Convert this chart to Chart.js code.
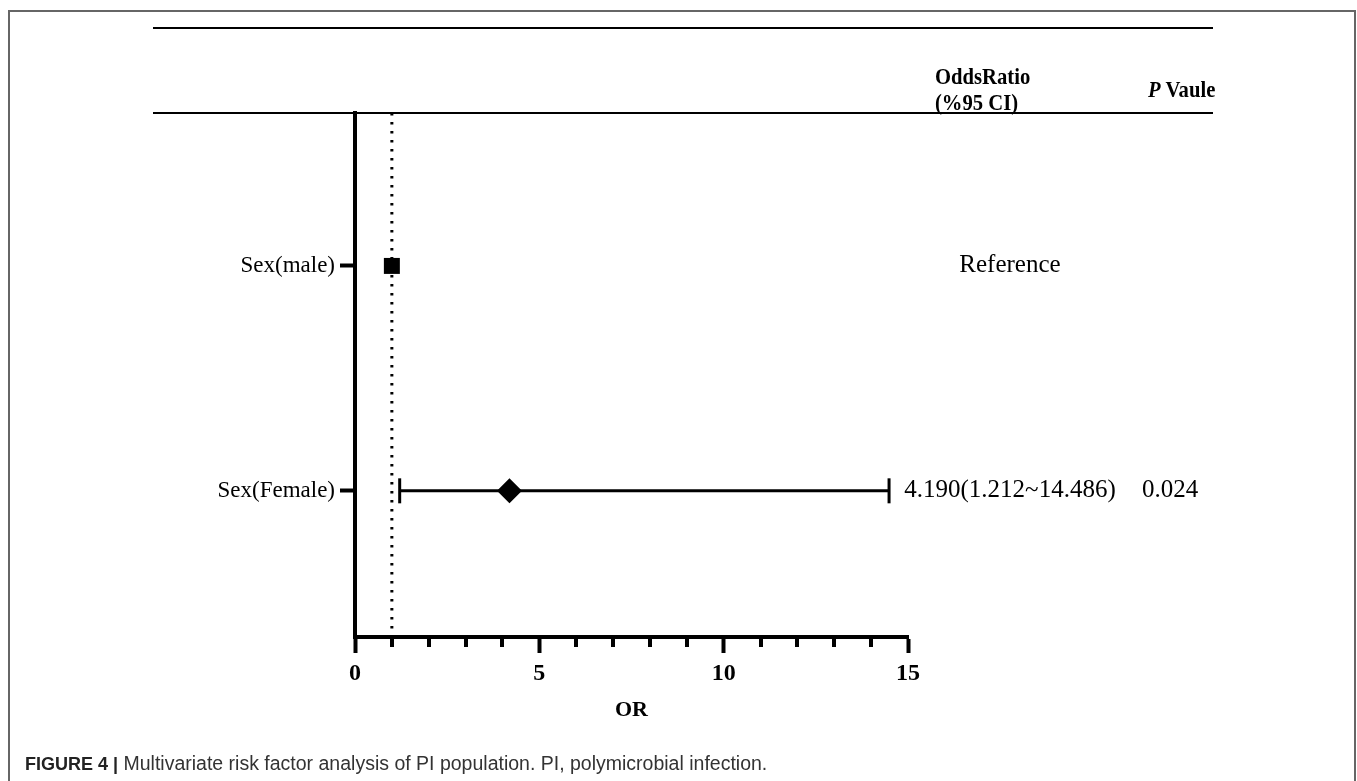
<!DOCTYPE html>
<html>
<head>
<meta charset="utf-8">
<script src="https://cdn.jsdelivr.net/npm/chart.js@4.4.1/dist/chart.umd.min.js"></script>
<style>
    html, body { margin: 0; padding: 0; background: #fff; }
    #wrap { position: relative; width: 1357px; height: 781px; overflow: hidden; background: #fff; }
    #frame { position: absolute; left: 8px; top: 10px; width: 1344px; height: 800px; border: 2px solid #666; border-bottom: none; }
    #chart { position: absolute; left: 0; top: 0; }
    #caption { position: absolute; left: 25px; top: 752px; font-family: 'Liberation Sans', Arial, sans-serif; font-size: 19.5px; color: #333; white-space: nowrap; }
    #caption b { font-size: 18px; color: #222; }
</style>
</head>
<body>
<div id="wrap">
    <div id="frame"></div>
    <canvas id="chart" width="1357" height="781"></canvas>
    <div id="caption"><b>FIGURE 4 |</b> Multivariate risk factor analysis of PI population. PI, polymicrobial infection.</div>
</div>
<script>
// du lieu doc tu hinh
const rowLabels = ['Sex(male)', 'Sex(Female)'];
const rowPos = [1, 2];
const oddsRatio = [1, 4.190];
const ciLower = [null, 1.212];
const ciUpper = [null, 14.486];
const orText = ['Reference', '4.190(1.212~14.486)'];
const pText = ['', '0.024'];
const markerStyle = ['rect', 'rectRot'];
const markerSize = [11.3, 12.5];
const refLine = 1;
const xMin = 0, xMax = 15, xStep = 5;
const yMin = 0.32, yMax = 2.65;

const serif = "'Liberation Serif', 'Times New Roman', serif";

// cac dataset
const datasets = [];

datasets.push({
    label: 'OR',
    data: rowPos.map((y, i) => ({ x: oddsRatio[i], y: y })),
    pointStyle: markerStyle,
    pointRadius: markerSize,
    backgroundColor: '#000',
    borderColor: '#000',
    borderWidth: 0,
    showLine: false
});

rowPos.forEach((y, i) => {
    if (ciLower[i] == null) return;
    datasets.push({
        label: 'CI ' + rowLabels[i],
        data: [{ x: ciLower[i], y: y }, { x: ciUpper[i], y: y }],
        showLine: true,
        borderColor: '#000',
        borderWidth: 3,
        pointStyle: 'line',
        rotation: 90,
        pointRadius: 12.5,
        pointBorderWidth: 3,
        pointBorderColor: '#000'
    });
});

// duong tham chieu OR = 1
datasets.push({
    label: 'ref',
    data: [{ x: refLine, y: yMin }, { x: refLine, y: yMax }],
    showLine: true,
    borderColor: '#000',
    borderWidth: 3,
    borderDash: [2.5, 6.5],
    pointRadius: 0
});

// chu dam hep (giong font tieu de goc)
function narrowText(ctx, text, x, y, font, sx) {
    ctx.save();
    ctx.font = font;
    ctx.translate(x, y);
    ctx.scale(sx, 1);
    ctx.fillText(text, 0, 0);
    const w = ctx.measureText(text).width * sx;
    ctx.restore();
    return w;
}

// ve tieu de bang, cot OR va P, vach phu truc x
const tablePlugin = {
    id: 'tablePlugin',
    afterDraw(chart) {
        const ctx = chart.ctx;
        const xs = chart.scales.x;
        const ys = chart.scales.y;
        const area = chart.chartArea;
        ctx.save();

        // vach phu
        ctx.strokeStyle = '#000';
        ctx.lineWidth = 4;
        for (let v = xMin + 1; v < xMax; v++) {
            if (v % xStep === 0) continue;
            const px = Math.round(xs.getPixelForValue(v));
            ctx.beginPath();
            ctx.moveTo(px, area.bottom);
            ctx.lineTo(px, area.bottom + 10);
            ctx.stroke();
        }

        // hai duong ngang cua bang
        ctx.lineWidth = 2;
        ctx.beginPath();
        ctx.moveTo(153, 28);
        ctx.lineTo(1213, 28);
        ctx.moveTo(153, area.top);
        ctx.lineTo(1213, area.top);
        ctx.stroke();

        // tieu de cot
        ctx.fillStyle = '#000';
        ctx.textBaseline = 'middle';
        ctx.textAlign = 'left';
        const hFont = 'bold 24px ' + serif;
        narrowText(ctx, 'OddsRatio', 935, 78, hFont, 0.86);
        narrowText(ctx, '(%95 CI)', 935, 104, hFont, 0.86);
        const pw = narrowText(ctx, 'P', 1148, 91, 'italic ' + hFont, 0.86);
        narrowText(ctx, 'Vaule', 1148 + pw + 5, 91, hFont, 0.86);

        // gia tri tung dong
        ctx.font = '25px ' + serif;
        ctx.textAlign = 'center';
        rowPos.forEach((v, i) => {
            const py = ys.getPixelForValue(v);
            ctx.fillText(orText[i], 1010, py);
            if (pText[i]) ctx.fillText(pText[i], 1170, py);
        });
        ctx.restore();
    }
};

const ctx = document.getElementById('chart').getContext('2d');
new Chart(ctx, {
    type: 'scatter',
    data: { datasets: datasets },
    plugins: [tablePlugin],
    options: {
        responsive: false,
        animation: false,
        events: [],
        layout: { padding: { left: 0, right: 449, top: 113, bottom: 0 } },
        plugins: {
            legend: { display: false },
            tooltip: { enabled: false }
        },
        scales: {
            x: {
                type: 'linear',
                position: 'bottom',
                min: xMin,
                max: xMax,
                afterFit: s => { s.height = 144; },
                ticks: {
                    stepSize: xStep,
                    color: '#000',
                    padding: 6,
                    font: { family: serif, size: 24, weight: 'bold' }
                },
                grid: {
                    drawOnChartArea: false,
                    drawTicks: true,
                    tickLength: 16,
                    tickWidth: 4,
                    color: '#000'
                },
                border: { display: true, width: 4, color: '#000' },
                title: {
                    display: true,
                    text: 'OR',
                    color: '#000',
                    font: { family: serif, size: 22, weight: 'bold' },
                    padding: { top: 0, bottom: 57 }
                }
            },
            y: {
                type: 'linear',
                reverse: true,
                min: yMin,
                max: yMax,
                afterFit: s => { s.width = 355; },
                afterBuildTicks: s => { s.ticks = rowPos.map(v => ({ value: v })); },
                ticks: {
                    color: '#000',
                    padding: 5,
                    font: { family: serif, size: 23 },
                    callback: (v, i) => rowLabels[i]
                },
                grid: {
                    drawOnChartArea: false,
                    tickLength: 15,
                    tickWidth: 4,
                    color: '#000'
                },
                border: { display: true, width: 4, color: '#000' }
            }
        }
    }
});
</script>
</body>
</html>
